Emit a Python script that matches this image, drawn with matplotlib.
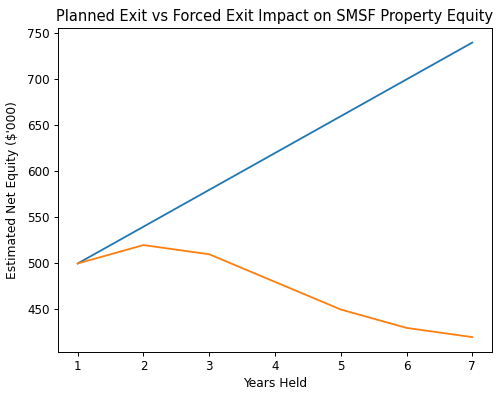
import matplotlib
matplotlib.use("Agg")
import matplotlib.pyplot as plt

years = [1, 2, 3, 4, 5, 6, 7]
planned_exit = [500, 540, 580, 620, 660, 700, 740]
forced_exit = [500, 520, 510, 480, 450, 430, 420]

fig = plt.figure(figsize=(5.0, 3.98), dpi=100)
ax = fig.add_axes([0.116, 0.116, 0.868, 0.814])
ax.plot(years, planned_exit, color="#1f77b4", linewidth=1.3)
ax.plot(years, forced_exit, color="#ff7f0e", linewidth=1.3)
ax.set_title("Planned Exit vs Forced Exit Impact on SMSF Property Equity", fontsize=10.55, pad=5)
ax.set_xlabel("Years Held", fontsize=8.8, labelpad=3)
ax.set_ylabel("Estimated Net Equity ($'000)", fontsize=8.8, labelpad=6)
ax.tick_params(labelsize=8.6, length=3, width=0.7, pad=3)
for s in ax.spines.values():
    s.set_linewidth(0.7)
fig.savefig("out.png", dpi=100)
